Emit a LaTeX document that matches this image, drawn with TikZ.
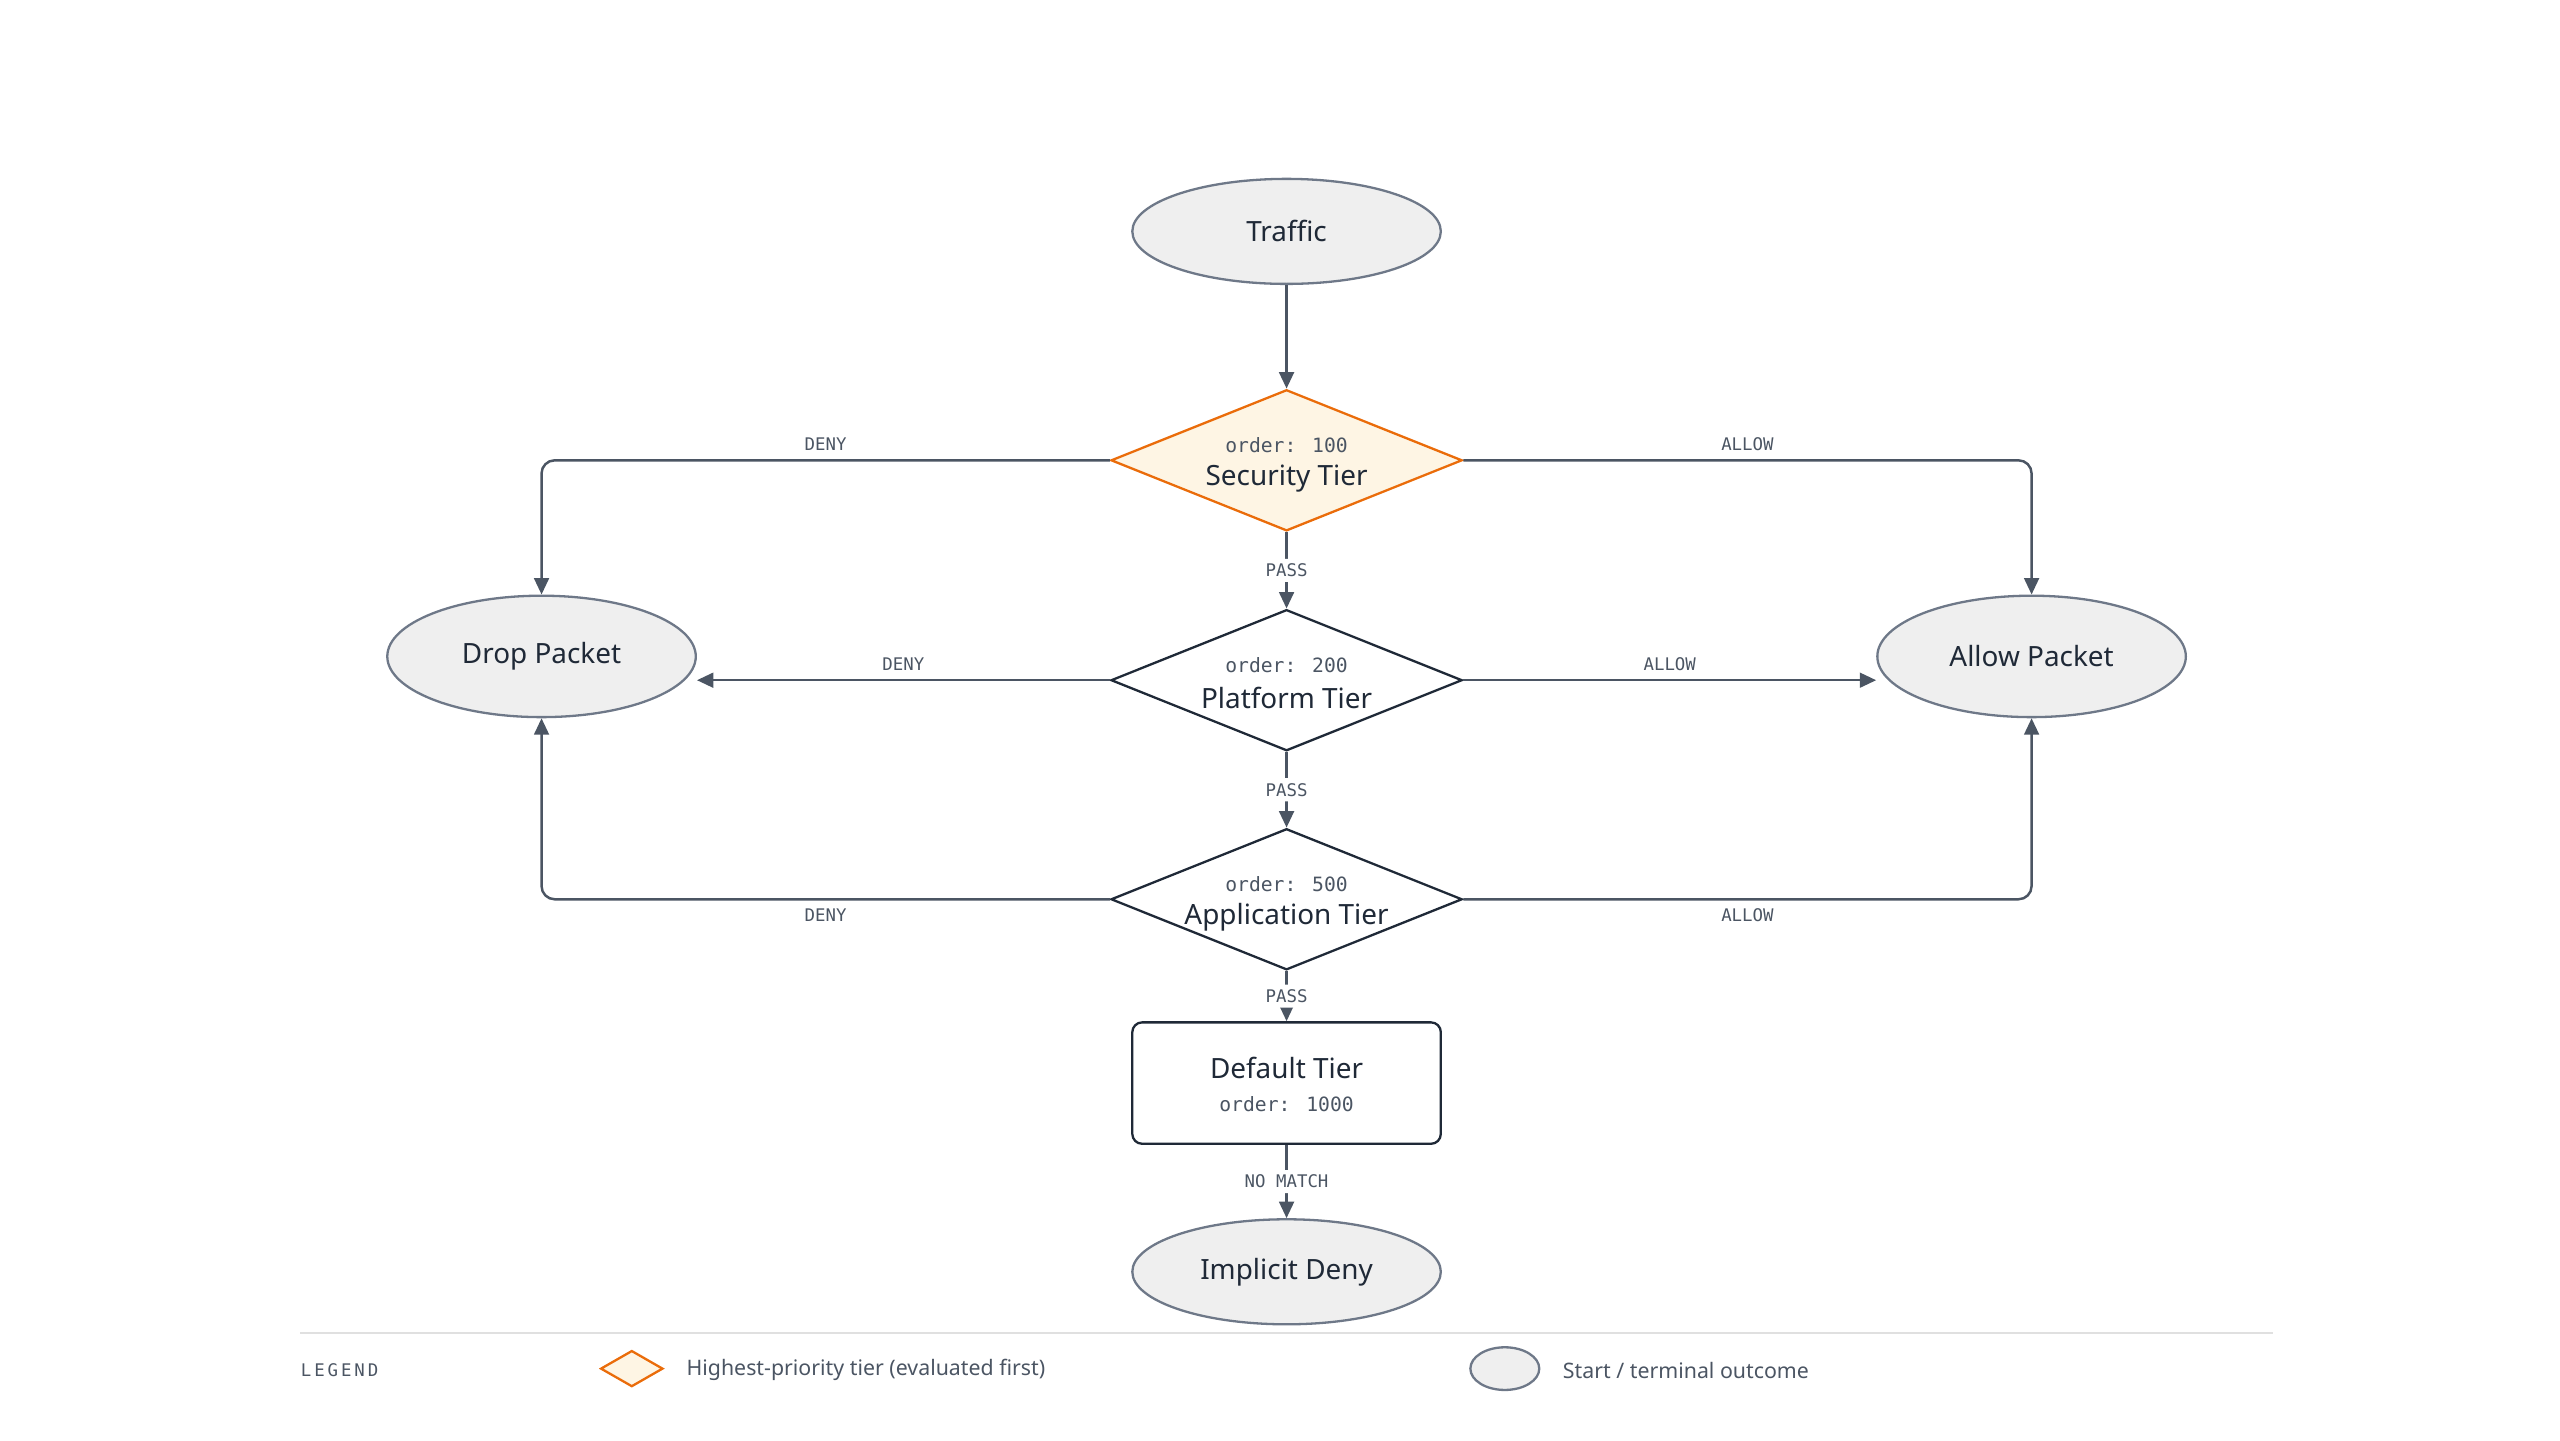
\documentclass[tikz,border=0pt]{standalone}
\usepackage{fontspec}
\setmainfont{Noto Sans}
\newfontfamily\monof{DejaVu Sans Mono}
\usetikzlibrary{shapes.geometric,arrows.meta}
\definecolor{ink}{HTML}{1F2937}
\definecolor{edge}{HTML}{4B5563}
\definecolor{term}{HTML}{EFEFEF}
\definecolor{termline}{HTML}{6E7888}
\definecolor{org}{HTML}{EA6C0A}
\definecolor{orgfill}{HTML}{FEF5E4}
\begin{document}
\begin{tikzpicture}[x=0.5pt,y=-0.5pt,
  term/.style={ellipse,draw=termline,fill=term,line width=0.7pt,minimum width=94pt,minimum height=32pt,inner sep=0pt,font=\bfseries\fontsize{8.5}{10}\selectfont,text=ink},
  tier/.style={diamond,draw=ink,fill=white,line width=0.7pt,minimum width=107pt,minimum height=43pt,inner sep=0pt,aspect=2.5,text=ink},
  con/.style={draw=edge,line width=0.75pt,-{Triangle[length=5pt,width=4.5pt]},rounded corners=4pt},
  lab/.style={font=\monof\fontsize{5.3}{6}\selectfont,text=edge,fill=white,inner sep=1.5pt},
  tt/.style={font=\bfseries\fontsize{8.5}{10}\selectfont},
  od/.style={font=\monof\fontsize{6}{7}\selectfont,text=edge}]
\useasboundingbox (0,0) rectangle (1560,878);
\node[term] (traffic) at (784,141) {Traffic};
\node[term,minimum height=37pt] (drop) at (330,400) {Drop Packet};
\node[term,minimum height=37pt] (allow) at (1238,400) {Allow Packet};
\node[term] (deny) at (784,775) {Implicit Deny};
\node[tier,draw=org,fill=orgfill] (sec) at (784,280.5) {};
\node[tier] (plat) at (784,414.5) {};
\node[tier] (app) at (784,548) {};
\node[draw=ink,fill=white,rounded corners=3pt,line width=0.7pt,minimum width=94pt,minimum height=37pt] (def) at (784,660) {};
\foreach \n/\t/\o in {sec/Security Tier/100,plat/Platform Tier/200,app/Application Tier/500}{
  \node[tt,text=ink] (\n t) at ([yshift=-5.5pt]\n.center) {\t};
  \node[od] (\n o) at ([yshift=4.5pt]\n.center) {order: \o};
}
\node[tt,text=ink] (deft) at (784,651) {Default Tier};
\node[od] (defo) at (784,673) {order: 1000};
% connectors
\draw[con] (traffic) -- (sec);
\draw[con] (sec.west) -| (drop.north) node[lab,pos=0.25,above=1pt,fill=none] {DENY};
\draw[con] (sec.east) -| (allow.north) node[lab,pos=0.25,above=1pt,fill=none] {ALLOW};
\draw[con] (sec) -- node[lab] {PASS} (plat);
\draw[con] (plat.west) -- node[lab,above=1pt,pos=0.5,fill=none] {DENY} (plat.west -| drop.east);
\draw[con] (plat.east) -- node[lab,above=1pt,pos=0.5,fill=none] {ALLOW} (plat.east -| allow.west);
\draw[con] (plat) -- node[lab] {PASS} (app);
\draw[con] (app.west) -| (drop.south) node[lab,pos=0.25,below=1pt,fill=none] {DENY};
\draw[con] (app.east) -| (allow.south) node[lab,pos=0.25,below=1pt,fill=none] {ALLOW};
\draw[con] (app) -- node[lab] {PASS} (def);
\draw[con] (def) -- node[lab] {NO MATCH} (deny);
% legend
\draw[draw=black!12,line width=0.6pt] (183,812) coordinate (la) -- (1385,812) coordinate (lb);
\node[anchor=west,font=\monof\fontsize{5.3}{6}\selectfont,text=edge,inner sep=0pt] (legend) at (183,835) {L\,E\,G\,E\,N\,D};
\node[diamond,draw=org,fill=orgfill,line width=0.7pt,minimum width=19pt,minimum height=11pt,aspect=1.7,inner sep=0pt] (ld) at (385,834) {};
\node[anchor=west,font=\fontsize{6.5}{8}\selectfont,text=edge,inner sep=0pt] (ldt) at (418,835) {Highest-priority tier (evaluated first)};
\node[ellipse,draw=termline,fill=term,line width=0.7pt,minimum width=21pt,minimum height=13pt,inner sep=0pt] (le) at (917,834) {};
\node[anchor=west,font=\fontsize{6.5}{8}\selectfont,text=edge,inner sep=0pt] (let) at (952,835) {Start / terminal outcome};
\end{tikzpicture}
\end{document}
